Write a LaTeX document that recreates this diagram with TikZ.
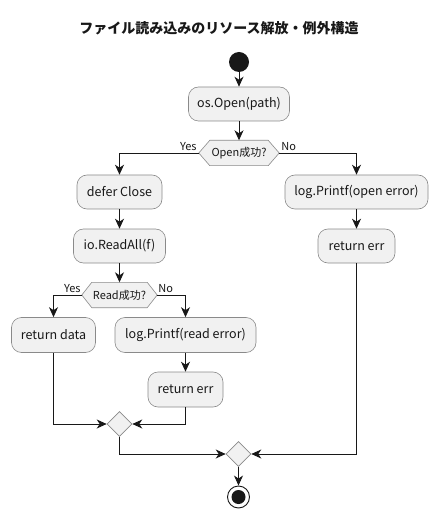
\documentclass[tikz,border=0pt]{standalone}
\usepackage{fontspec}
\setmainfont{Noto Sans CJK JP}
\usetikzlibrary{arrows.meta,calc,shapes.geometric}
\definecolor{boxfill}{HTML}{F1F1F1}
\definecolor{boxline}{HTML}{8A8A8A}
\definecolor{ink}{HTML}{181818}
\tikzset{
  act/.style={draw=boxline, fill=boxfill, rounded corners=10pt, minimum height=34pt, inner sep=0pt, font=\fontsize{12.5}{14}\selectfont, text=ink, line width=0.6pt},
  hexlab/.style={inner sep=0pt, minimum height=25pt, font=\fontsize{11}{13}\selectfont, text=ink},
  hexshape/.style={draw=boxline, fill=boxfill, line width=0.6pt},
  merge/.style={diamond, draw=boxline, fill=boxfill, minimum width=25pt, minimum height=25pt, inner sep=0pt, line width=0.6pt},
  flow/.style={draw=ink, line width=0.9pt, -{Stealth[length=10pt,width=9pt,inset=3pt]}},
  lab/.style={font=\fontsize{11}{13}\selectfont, text=ink, inner sep=0pt},
}
\begin{document}
\begin{tikzpicture}[x=1pt,y=-1pt]
\useasboundingbox (0,0) rectangle (438,518);
\node[font=\fontsize{14}{16}\selectfont\bfseries, text=ink] (title) at (219,28) {ファイル読み込みのリソース解放・例外構造};
% start
\node[circle, fill=ink, minimum size=20pt, inner sep=0pt] (start) at (239,62) {};
\node[act, minimum width=101pt] (open) at (239,104) {os.Open(path)};
% decision 1
\node[hexlab, minimum width=58pt] (d1) at (239,153) {Open成功?};
\coordinate (d1l) at ($(d1.west)+(-11,0)$);
\coordinate (d1r) at ($(d1.east)+(11,0)$);
\draw[hexshape] (d1.north west) -- (d1.north east) -- (d1r) -- (d1.south east) -- (d1.south west) -- (d1l) -- cycle;
\node[hexlab] at (d1) {Open成功?};
% left branch
\node[act, minimum width=85pt] (defer) at (119.5,192) {defer Close};
\node[act, minimum width=92pt] (readall) at (119.5,246) {io.ReadAll(f)};
% right branch
\node[act, minimum width=143pt] (logopen) at (356.5,192) {log.Printf(open error)};
\node[act, minimum width=77pt] (reterr1) at (356.5,246) {return err};
% decision 2
\node[hexlab, minimum width=55pt] (d2) at (119.5,295) {Read成功?};
\coordinate (d2l) at ($(d2.west)+(-10,0)$);
\coordinate (d2r) at ($(d2.east)+(10,0)$);
\draw[hexshape] (d2.north west) -- (d2.north east) -- (d2r) -- (d2.south east) -- (d2.south west) -- (d2l) -- cycle;
\node[hexlab] at (d2) {Read成功?};
\node[act, minimum width=84pt, minimum height=35pt] (retdata) at (53.5,335) {return data};
\node[act, minimum width=141pt, minimum height=35pt] (logread) at (185.5,335) {log.Printf(read error)};
\node[act, minimum width=75pt, minimum height=35pt] (reterr2) at (185.5,389.5) {return err};
% merges
\node[merge] (m1) at (119.5,424) {};
\node[merge] (m2) at (238.5,454) {};
% end
\node[circle, draw=ink, fill=white, line width=0.9pt, minimum size=22pt, inner sep=0pt] (end) at (238.5,497) {};
\node[circle, fill=ink, minimum size=14pt, inner sep=0pt] (endin) at (end) {};
% labels
\node[lab, anchor=south east] (y1) at ($(d1l)+(-2,-2)$) {Yes};
\node[lab, anchor=south west] (n1) at ($(d1r)+(2,-2)$) {No};
\node[lab, anchor=south east] (y2) at ($(d2l)+(-1,-2)$) {Yes};
\node[lab, anchor=south west] (n2) at ($(d2r)+(1,-2)$) {No};
% flows
\draw[flow] (start) -- (open);
\draw[flow] (open) -- (d1.north -| open);
\draw[flow] (d1l) -| (defer.north);
\draw[flow] (d1r) -| (logopen.north);
\draw[flow] (defer) -- (readall);
\draw[flow] (logopen) -- (reterr1);
\draw[flow] (readall) -- (d2.north -| readall);
\draw[flow] (d2l) -| (retdata.north);
\draw[flow] (d2r) -| (logread.north);
\draw[flow] (logread) -- (reterr2);
\draw[flow] (retdata.south) |- (m1.west);
\draw[flow] (reterr2.south) |- (m1.east);
\draw[flow] (m1.south) |- (m2.west);
\draw[flow] (reterr1.south) |- (m2.east);
\draw[flow] (m2.south) -- (end.north);
\end{tikzpicture}
\end{document}
